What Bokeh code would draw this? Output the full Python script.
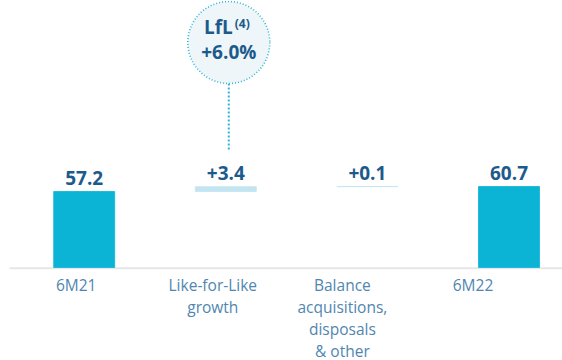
from bokeh.plotting import figure
from bokeh.models import ColumnDataSource, Range1d
from bokeh.core.properties import value
from bokeh.embed import file_html
from bokeh.resources import INLINE

# ---- data ----
categories = ["6M21", "Like-for-Like\ngrowth", "Balance\nacquisitions,\ndisposals\n& other", "6M22"]
amounts = [57.2, 3.4, 0.1, 60.7]
kinds = ["total", "delta", "delta", "total"]
value_labels = ["57.2", "+3.4", "+0.1", "60.7"]
bubble_title = "LfL"
bubble_note = "(4)"
bubble_value = "+6.0%"

# ---- style ----
FONT = "Open Sans"
BAR_COLOR = "#0bb4d4"
DELTA_COLOR = "#c2e5f1"
VALUE_COLOR = "#1d5a8c"
CAT_COLOR = "#5086b0"
FLOOR = 4.0          # value at the visible baseline
LABEL_NUDGE = [-8, -13, -25, -36]   # px shifts of category labels
BASE_FIX = -7        # svg alphabetic baseline correction (px)

PX_X = 141.6
X0 = -83.7 / PX_X
PX_Y = 5 / 3.5
Y_END = 57.2 + 191 / PX_Y
Y_START = Y_END - 360 / PX_Y

def px_y(py):
    return Y_END - py / PX_Y

def px_x(px):
    return X0 + px / PX_X

# waterfall geometry from data
xs, bottoms, tops, colors = [], [], [], []
running = 0.0
for i, (a, k) in enumerate(zip(amounts, kinds)):
    xs.append(i)
    if k == "total":
        bottoms.append(FLOOR)
        tops.append(a)
        running = a
        colors.append(BAR_COLOR)
    else:
        bottoms.append(running)
        running = running + a
        tops.append(running)
        colors.append(DELTA_COLOR)

src = ColumnDataSource(dict(x=xs, bottom=bottoms, top=tops, color=colors,
                            vlabel=value_labels, cat=categories,
                            nudge=LABEL_NUDGE, floor=[FLOOR] * len(xs)))

p = figure(width=562, height=360, output_backend="svg", toolbar_location=None,
           x_range=Range1d(X0, X0 + 562 / PX_X), y_range=Range1d(Y_START, Y_END),
           min_border=0, outline_line_color=None)
p.axis.visible = False
p.xgrid.visible = False
p.ygrid.visible = False
p.background_fill_color = "white"
p.border_fill_color = "white"

# baseline
p.segment(x0=[px_x(9)], x1=[px_x(562)], y0=[FLOOR - 0.6], y1=[FLOOR - 0.6],
          line_color="#e4e6e8", line_width=2)

# bars
p.vbar(x="x", bottom="bottom", top="top", width=61 / PX_X, source=src,
       fill_color="color", line_color="color", line_width=0.8)

# value labels
p.text(x="x", y="top", text="vlabel", source=src, text_align="center",
       text_baseline="alphabetic", y_offset=-7 + BASE_FIX, text_color=VALUE_COLOR,
       text_font=value(FONT), text_font_style="bold", text_font_size="19px")

# category labels
p.text(x="x", y="floor", text="cat", source=src, text_align="center",
       text_baseline="top", x_offset="nudge", y_offset=6, text_color=CAT_COLOR,
       text_font=value(FONT), text_font_size="15.5px", text_line_height=1.0)

# bubble for LfL
bx = xs[1] + 3 / PX_X
by = px_y(42)
p.segment(x0=[bx], x1=[bx], y0=[px_y(83)], y1=[px_y(149)],
          line_color="#2fb5d8", line_width=2, line_dash="2 2")
p.scatter(x=[bx], y=[by], size=82, marker="circle", fill_color="#eef6fa",
          line_color="#2fb5d8", line_width=1.6, line_dash="1 2")
p.text(x=[bx], y=[px_y(33)], text=[bubble_title], text_align="right",
       text_baseline="alphabetic", x_offset=4, y_offset=BASE_FIX, text_color=VALUE_COLOR,
       text_font=value(FONT), text_font_style="bold", text_font_size="19px")
p.text(x=[bx], y=[px_y(27)], text=[bubble_note], text_align="left",
       text_baseline="alphabetic", x_offset=6, y_offset=BASE_FIX + 3, text_color=VALUE_COLOR,
       text_font=value(FONT), text_font_style="bold", text_font_size="12px")
p.text(x=[bx], y=[px_y(58)], text=[bubble_value], text_align="center",
       text_baseline="alphabetic", y_offset=BASE_FIX, text_color=VALUE_COLOR,
       text_font=value(FONT), text_font_style="bold", text_font_size="19px")

open("out.html", "w").write(file_html(p, INLINE))
